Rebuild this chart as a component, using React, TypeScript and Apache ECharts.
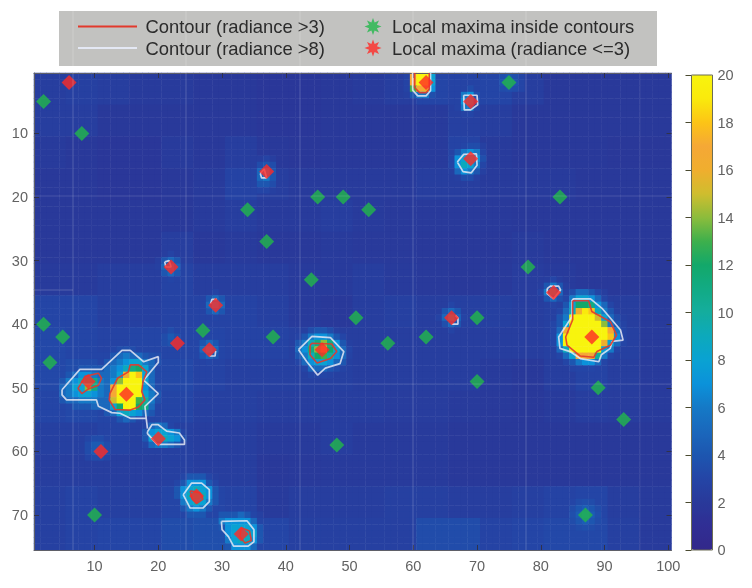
import React, { useEffect, useRef } from "react";
import * as echarts from "echarts";

const xTicks = [10, 20, 30, 40, 50, 60, 70, 80, 90, 100];
const yTicks = [10, 20, 30, 40, 50, 60, 70];
const colormap = ["#33288a", "#302e94", "#29399a", "#2445a6", "#1d56b0", "#1a68bc", "#1579c6", "#0b92da", "#0aa2d2", "#0ca9bc", "#14ad9e", "#12ab84", "#13a86a", "#3eb04c", "#8cbc3c", "#cfbd2e", "#f0ae2e", "#f5a836", "#fcc416", "#faea0c", "#f8f40e"];

// Background radiance, one value for each 5x5 block of cells
const backgroundBlocks = [
  [2.4, 2.6, 2.4, 2.2, 2.2, 2, 2, 1.8, 1.8, 2, 2.2, 2.4, 3, 2.8, 3, 2.4, 2, 2, 2, 2],
  [2.4, 2.4, 2, 2, 2, 2, 2, 1.8, 1.8, 2, 2, 2, 2.2, 2.6, 2.4, 2, 2, 2, 2, 2],
  [2.2, 2, 1.8, 1.8, 2.2, 2, 2.4, 2, 1.9, 2, 2, 2, 2.2, 2.8, 2.2, 2, 2, 2, 1.9, 1.9],
  [2, 2, 1.8, 1.8, 2, 2.2, 2.8, 2.4, 2.2, 2.2, 2.2, 2.2, 2.4, 2.4, 2.2, 2.2, 2.2, 2, 2, 2],
  [2, 2, 2, 2, 2, 2.2, 2.4, 2.2, 2.2, 2.4, 2.2, 2.1, 2.1, 2.1, 2.1, 2, 2, 2, 2, 2],
  [2, 2, 2, 2, 2.4, 2, 2.2, 2, 2, 2.2, 2.1, 2.1, 2, 2, 2, 2.2, 2, 2, 2, 2],
  [2.2, 2.2, 2.4, 2.4, 2.8, 2.4, 2.4, 2.4, 2.2, 2.2, 2.4, 2.2, 2.1, 2, 2.1, 2.3, 2.2, 2, 2, 2],
  [3, 3, 2.6, 2.6, 2.8, 2.8, 2.8, 2.6, 2.2, 2, 2.4, 2.6, 2.4, 2.6, 2.6, 2.4, 2.6, 2.8, 2.4, 2.2],
  [3.2, 3, 2.8, 3, 3, 3, 2.8, 2.8, 2.6, 2.4, 2.4, 2.4, 2.4, 2.4, 2.4, 2.4, 2.6, 3, 2.6, 2.2],
  [3.2, 3.4, 3, 3.2, 3.2, 2.8, 2.6, 2.6, 2.6, 2.6, 2.4, 2.4, 2.4, 2.4, 2.2, 2, 2.4, 2.8, 2.4, 2.2],
  [3, 3.2, 3, 3, 3, 2.6, 2.6, 2.4, 2.4, 2.4, 2.4, 2.3, 2.3, 2.2, 2.1, 2, 2.2, 2.4, 2.3, 2.2],
  [2.6, 2.6, 2.8, 2.6, 2.6, 2.4, 2.4, 2.2, 2.2, 2.4, 2.2, 2.2, 2.2, 2, 2, 2, 2, 2, 2, 2],
  [2.4, 2.4, 2.4, 2.4, 2.6, 2.4, 2.4, 2, 2.1, 2.2, 2.2, 2.2, 2.2, 2, 2, 2, 2, 2, 2, 2],
  [2.6, 2.8, 2.6, 2.6, 3, 3, 2.8, 2.2, 2.4, 2.4, 2.4, 2.6, 2.6, 2.4, 2.4, 2.6, 2.8, 3, 2.4, 2.2],
  [2.6, 2.8, 3, 3, 3.4, 3.6, 3.6, 3, 2.6, 2.6, 2.6, 2.6, 3.4, 3.4, 2.8, 3, 3.2, 3.2, 2.6, 2.2],
];

// Single-cell readings round the hot spots: first column, first row, then rows of values
const spotWest = { col: 5, row: 44, cells: [
  [2, 2, 2, 2, 2, 2, 2, 2.6, 3, 3.4, 3.6, 3.4, 3, 2.8, 2.6, 2.4, 2, 2, 2, 2],
  [2, 2, 2, 2, 2, 2.6, 3, 3, 4, 5, 6, 5, 5, 4, 3.6, 3.4, 2.4, 2, 2, 2],
  [2, 2, 2, 2.6, 3, 3, 3, 4, 5, 6, 7, 8, 8, 6, 5, 3.6, 2.4, 2, 2, 2],
  [2, 2.6, 3, 4, 4, 4, 4, 5, 6, 7, 9, 11, 12, 8, 5, 3, 2.4, 2, 2, 2],
  [3, 4, 5, 7, 7, 6, 5, 5, 6, 8, 16, 20, 18, 8, 5, 3, 2.4, 2, 2, 2],
  [4, 6, 7, 9, 11, 11, 6, 5, 7, 14, 20, 20, 20, 8, 5, 3, 2.4, 2, 2, 2],
  [5, 6, 8, 8, 14, 11, 6, 5, 17, 20, 20, 20, 20, 7, 5, 3.4, 2.6, 2, 2, 2],
  [5, 6, 7, 8, 8, 7, 6, 5, 17, 20, 20, 20, 20, 8, 6, 4, 2.6, 2, 2, 2],
  [4, 5, 5, 6, 6, 6, 5, 5, 15, 20, 20, 20, 13, 10, 6, 3.6, 2.4, 2, 2, 2],
  [3, 3, 4, 4, 4, 5, 5, 5, 8, 12, 20, 20, 12, 11, 5, 3, 2.4, 2, 2, 2],
  [2, 2, 3, 3, 3, 3, 3, 4, 5, 8, 9, 8, 7, 5, 4, 3, 2.4, 2, 2, 2],
  [2, 2, 2, 2, 2, 2, 2.6, 3, 3, 4, 5, 4, 3, 3, 3, 3, 3, 2.6, 2, 2],
] };
const spotSouthWest = { col: 18, row: 56, cells: [
  [3, 5, 6, 5, 3, 2.6, 2.2],
  [4, 7, 8, 8, 7, 6, 3],
  [4, 8, 10, 9, 8, 7, 3.6],
  [3, 5, 6, 6, 5, 4, 2.8],
] };
const spotEast = { col: 82, row: 35, cells: [
  [2, 2, 2.6, 3.4, 5, 5, 4, 3, 2.4, 2, 2, 2, 2],
  [2, 2.6, 3, 6, 8, 8, 7, 5, 3, 2.4, 2, 2, 2],
  [2, 2.6, 4, 8, 12, 12, 11, 7, 5, 3, 2.4, 2, 2],
  [2, 3, 5, 9, 16, 19, 18, 9, 6, 4, 2.6, 2.2, 2],
  [2.6, 4, 6, 20, 20, 20, 20, 15, 8, 5, 3.4, 2.6, 2],
  [3, 4, 8, 20, 20, 20, 20, 20, 14, 6, 4, 2.8, 2],
  [3, 5, 16, 20, 20, 20, 20, 20, 20, 17, 6, 3, 2.2],
  [3, 7, 20, 20, 20, 20, 20, 20, 20, 18, 7, 3, 2.2],
  [3, 7, 20, 20, 20, 20, 20, 20, 16, 8, 5, 3, 2.2],
  [2.4, 5, 9, 20, 20, 20, 20, 20, 8, 6, 3, 2.4, 2],
  [2.2, 3, 5, 8, 17, 17, 17, 10, 6, 3, 2.4, 2, 2],
  [2, 2.4, 3, 4, 6, 7, 7, 5, 3, 2.4, 2, 2, 2],
  [2, 2, 2.4, 2.8, 3, 3, 3, 2.8, 2.4, 2, 2, 2, 2],
] };
const spotCentre = { col: 42, row: 41, cells: [
  [2, 2.6, 3.4, 4, 4, 3.4, 2.6, 2, 2],
  [2.8, 4, 6, 7, 7, 6, 4, 3, 2],
  [4, 6, 9, 11, 14, 11, 7, 4, 2.6],
  [5, 7, 11, 14, 17, 12, 8, 5, 3],
  [4, 6, 9, 12, 13, 10, 7, 5, 2.8],
  [3, 5, 7, 8, 8, 7, 5, 4, 2.6],
  [2.6, 3, 5, 5, 5, 4, 3.4, 2.8, 2],
  [2, 2.6, 3, 3, 3, 2.8, 2.6, 2, 2],
] };
const spotTop = { col: 59, row: 1, cells: [
  [2.8, 17, 20, 20, 8, 3],
  [2.8, 17, 20, 20, 8, 3],
  [2.8, 13, 17, 16, 7, 3],
  [2.6, 4, 6, 6, 3.6, 2.6],
] };
const spotA = { col: 67, row: 3, cells: [[2.4, 2.8, 3.4, 2.8], [2.8, 6, 7, 3.6], [2.8, 7, 8, 3.6], [2.8, 6, 6, 3], [2.4, 2.8, 3, 2.6]] };
const spotB = { col: 66, row: 12, cells: [
  [2, 2.4, 3, 3.4, 3.4, 2.6],
  [2.6, 4, 6, 7, 6, 3],
  [3, 7, 8, 9, 7, 3.6],
  [3, 7, 9, 8, 6, 3],
  [2.6, 5, 7, 6, 4, 2.6],
  [2, 2.6, 3.4, 3.4, 2.6, 2],
] };
const spotC = { col: 80, row: 33, cells: [[2, 2.4, 3, 2.4, 2], [2.4, 4, 6, 4, 2.4], [2.8, 6, 9, 5, 2.6], [2.4, 4, 5, 3.6, 2.2], [2, 2.4, 2.8, 2.4, 2]] };
const spotD = { col: 64, row: 37, cells: [[2, 2.4, 3, 2.6, 2.2], [2.4, 4, 5, 4, 2.6], [2.8, 5, 9, 5, 2.8], [2.4, 3.6, 5, 4, 2.6], [2, 2.4, 2.8, 2.4, 2]] };
const spotE = { col: 35, row: 14, cells: [[2.2, 2.4, 2.8, 2.4], [2.4, 3.4, 4, 3.4], [2.6, 5, 7, 4], [2.6, 5, 6, 4], [2.4, 4, 4, 3.4], [2.2, 3, 3, 2.6]] };
const spotF = { col: 20, row: 29, cells: [[2, 2.4, 2.8, 2.4, 2], [2.4, 4, 5, 4, 2.4], [2.6, 5, 7, 5, 2.6], [2.4, 4, 5, 4, 2.4], [2, 2.4, 3, 2.4, 2]] };
const spotG = { col: 27, row: 35, cells: [[2, 2.4, 2.8, 2.4, 2], [2.4, 4, 5, 4, 2.4], [2.6, 5, 7, 5, 2.6], [2.4, 4, 5, 4, 2.4], [2, 2.4, 3, 2.4, 2]] };
const spotH = { col: 26, row: 42, cells: [[2, 2.4, 2.8, 2.4, 2], [2.4, 4, 5, 4, 2.4], [2.6, 5, 7, 5, 2.6], [2.4, 4, 5, 4, 2.4], [2, 2.4, 3, 2.4, 2]] };
const spotI = { col: 23, row: 64, cells: [
  [2.6, 3, 4, 4, 4, 3, 2.6],
  [3, 4, 7, 7, 7, 4, 3],
  [4, 7, 8, 9, 8, 7, 4],
  [4, 7, 9, 10, 9, 7, 4],
  [3, 6, 8, 9, 8, 6, 4],
  [3, 4, 6, 7, 6, 4, 3],
  [2.6, 3, 4, 4, 4, 3, 2.6],
] };
const spotJ = { col: 29, row: 70, cells: [
  [2.8, 4, 4, 4, 5, 4, 3, 2.6],
  [3, 6, 7, 7, 7, 7, 5, 3],
  [3, 4, 7, 8, 8, 8, 7, 4],
  [3, 3, 7, 8, 9, 9, 8, 4],
  [3, 3, 6, 8, 9, 9, 7, 4],
  [3, 3, 4, 7, 7, 7, 5, 3],
] };
const glowK = { col: 85, row: 68, cells: [[3, 3.4, 3.6, 3.4, 3], [3.4, 4, 4.4, 4, 3.4], [3.6, 4.4, 5, 4.4, 3.6], [3.4, 4, 4.4, 4, 3.4], [3, 3.4, 3.6, 3.4, 3]] };
const glowL = { col: 73, row: 1, cells: [[3, 3.6, 4, 3.6, 3], [3, 3.8, 4.4, 3.8, 3], [3, 3.4, 3.6, 3.4, 3]] };
const glowM = { col: 21, row: 41, cells: [[3, 3.4, 3, 3], [3.4, 4.2, 3.6, 3], [3.4, 3.8, 3.4, 3]] };
const glowN = { col: 9, row: 58, cells: [[3, 3.4, 3.4, 3], [3.4, 4.2, 4.2, 3.4], [3.4, 4.2, 4, 3.4], [3, 3.4, 3.4, 3]] };
const spots = [spotWest, spotSouthWest, spotEast, spotCentre, spotTop, spotA, spotB, spotC, spotD, spotE, spotF, spotG, spotH, spotI, spotJ, glowK, glowL, glowM, glowN];

const redMaxima = [[6, 2], [69, 5], [62, 2], [69, 14], [37, 16], [22, 31], [82, 35], [29, 37], [66, 39], [88, 42], [23, 43], [28, 44], [45.7, 44], [9, 49], [15, 51], [20, 58], [11, 60], [26, 67], [33, 73]];
const greenMaxima = [[2, 5], [8, 10], [75, 2], [34, 22], [45, 20], [49, 20], [53, 22], [83, 20], [37, 27], [78, 31], [44, 33], [51, 39], [70, 39], [2, 40], [5, 42], [3, 46], [27, 41], [38, 42], [56, 43], [62, 42], [70, 49], [89, 50], [93, 55], [48, 59], [10, 70], [87, 70]];

const whiteContours = [
  [[4.9, 50.3], [7.7, 47.1], [11.1, 47.1], [14.3, 44.1], [15.6, 44.1], [17.7, 45.9], [20, 45.1], [20, 46], [17.7, 48.8], [20, 50.9], [17.9, 52.9], [18.1, 54.8], [15.6, 54.8], [14, 54], [12.7, 53.9], [10.6, 52.9], [10.3, 51.9], [5.6, 51.9], [4.9, 51.1], [4.9, 50.3]],
  [[18.1, 54.8], [18.3, 56.4]],
  [[18.3, 56.9], [19, 55.8], [20, 55.8], [21.3, 56.8], [23.3, 57.1], [24.1, 58.2], [24.1, 58.9], [19.8, 58.9], [18.3, 57.2], [18.3, 56.9]],
  [[84.9, 36.2], [85.2, 36], [87.8, 36], [89.6, 37.5], [92.5, 40.9], [92.9, 42.5], [91.2, 42.7], [90.9, 43.8], [89.5, 44.8], [89.1, 45.9], [86.2, 45.4], [84.6, 44.3], [83, 43.8], [82.8, 42], [84.9, 38.8], [84.9, 36.2]],
  [[42, 44], [44.1, 41.9], [47, 42.1], [49.1, 44.3], [48.5, 46.2], [46.2, 46.9], [45, 48], [43.3, 45.9], [42, 44]],
  [[59.9, 0.5], [59.9, 3.2], [60.7, 4.1], [62, 4.1], [62.7, 3.3], [62.7, 0.5]],
  [[67.9, 4], [70, 4], [70.1, 5.5], [69, 6.3], [68, 6.3], [67.9, 4]],
  [[66.9, 14.5], [67.9, 13.3], [69.9, 13.2], [70, 15], [69.1, 16.2], [67.8, 16], [66.9, 14.5]],
  [[81, 34.4], [81.5, 34], [82.8, 34], [83.1, 34.6], [82, 36], [81, 35.2], [81, 34.4]],
  [[66.6, 38.6], [67, 39], [67, 40], [66, 40]],
  [[36, 16.3], [36.6, 15.6], [37, 17], [36.2, 17], [36, 16.3]],
  [[21, 30.2], [21.7, 30], [22, 31], [21.2, 31], [21, 30.2]],
  [[28.2, 36.8], [28.4, 36.1], [29.2, 36.1]],
  [[28, 45], [28.9, 45], [29, 44.2]],
  [[23.9, 66.8], [25.2, 65], [26.8, 65], [28, 66], [28, 67.9], [27, 68.9], [25, 68.9], [23.9, 66.8]],
  [[29.9, 71], [33.9, 70.9], [35, 72.3], [35, 74.2], [34.1, 74.9], [31.8, 74.9], [31, 73.4], [30, 72.3], [29.9, 71]],
];
const redContours = [
  [[7.7, 49.6], [8.5, 48.2], [10.6, 47.7], [11.1, 48.5], [10.6, 49.6], [9, 50.2], [8, 50.9], [7.4, 50.1], [7.7, 49.6]],
  [[12.4, 50.9], [13.6, 48.5], [15.3, 47.5], [15.6, 46.4], [16.9, 46.4], [18.2, 47.5], [17.6, 49], [17.4, 50.6], [17.9, 51.9], [16.9, 53], [15.6, 53.5], [13.2, 53.4], [12.3, 51.9], [12.4, 50.9]],
  [[85, 36.3], [87.5, 36.3], [88, 38], [90.9, 39.6], [91.9, 41.7], [90.9, 43.3], [88.8, 44.3], [88.3, 45.2], [86.2, 45], [84.1, 43.3], [83.9, 42], [85, 39.3], [85, 36.3]],
  [[43.8, 43.3], [44.1, 43], [47.2, 43.1], [48, 44.3], [47, 45.4], [44.9, 46.1], [43.8, 44.8], [43.8, 43.3]],
  [[60.2, 0.5], [60.2, 2.8], [61, 3.6], [62, 3.6], [62.5, 3], [62.5, 0.5]],
  [[25, 66.2], [26.5, 66.5], [27, 67.5], [26, 68.2], [25.3, 67.5], [25, 66.2]],
  [[33, 72], [34.3, 72.5], [34.6, 74], [33.6, 74.4], [32.8, 73.4], [33, 72]],
];

const CONTOUR_RED = "Contour (radiance >3)";
const CONTOUR_WHITE = "Contour (radiance >8)";
const MAX_GREEN = "Local maxima inside contours";
const MAX_RED = "Local maxima (radiance <=3)";
const asterisk = "path://M8 0L3.7 1.53L5.66 5.66L1.53 3.7L0 8L-1.53 3.7L-5.66 5.66L-3.7 1.53L-8 0L-3.7 -1.53L-5.66 -5.66L-1.53 -3.7L0 -8L1.53 -3.7L5.66 -5.66L3.7 -1.53Z";
const FONT = "'Liberation Sans', Arial, sans-serif";

const withBreaks = (parts: number[][][]) => {
  const out: (number | null)[][] = [];
  parts.forEach((p) => { out.push(...p); out.push([null, null]); });
  return out;
};

const buildCells = () => {
  const cols = backgroundBlocks[0].length * 5;
  const rows = backgroundBlocks.length * 5;
  const field: number[][] = [];
  for (let r = 0; r < rows; r++) {
    const line: number[] = [];
    for (let c = 0; c < cols; c++) line.push(backgroundBlocks[Math.floor(r / 5)][Math.floor(c / 5)]);
    field.push(line);
  }
  spots.forEach((s) => s.cells.forEach((vals, dr) => vals.forEach((v, dc) => {
    const r = s.row - 1 + dr, c = s.col - 1 + dc;
    if (r < rows && c < cols) field[r][c] = Math.max(field[r][c], v);
  })));
  const data: number[][] = [];
  field.forEach((line, r) => line.forEach((v, c) => data.push([c, r, v])));
  return { data, cols, rows };
};

export default function App() {
  const ref = useRef<HTMLDivElement>(null);
  useEffect(() => {
    const chart = echarts.init(ref.current!, undefined, { renderer: "svg" });
    const { data, cols, rows } = buildCells();
    const axisLabel = { color: "#626262", fontSize: 14.5, fontFamily: FONT };
    const tick = { show: true, inside: true, length: 5, lineStyle: { color: "#30324a", width: 1 } };
    const line = { show: true, lineStyle: { color: "#5f6068", width: 1 } };
    const plot = { left: 34, top: 73, width: 637.5, height: 477 };
    const faint = (x1: number, y1: number, x2: number, y2: number, o = 0.2) => ({
      type: "line", z: 20, silent: true, shape: { x1, y1, x2, y2 },
      style: { stroke: "#ffffff", lineWidth: 1, opacity: o },
    });
    chart.setOption({
      animation: false,
      backgroundColor: "#ffffff",
      grid: [
        { ...plot, containLabel: false },
        { ...plot, containLabel: false },
        { left: 691.5, top: 75, width: 21, height: 475, containLabel: false },
      ],
      xAxis: [
        { type: "category", gridIndex: 0, show: false, data: Array.from({ length: cols }, (_, i) => i + 1) },
        { type: "value", gridIndex: 1, position: "bottom", min: 0.5, max: 100.5, z: 3, splitLine: { show: false }, axisLine: line, axisTick: { ...tick, customValues: xTicks }, axisLabel: { ...axisLabel, margin: 8, customValues: xTicks } },
        { type: "value", gridIndex: 1, position: "top", min: 0.5, max: 100.5, z: 3, splitLine: { show: false }, axisLine: line, axisTick: { ...tick, customValues: xTicks }, axisLabel: { show: false } },
        { type: "value", gridIndex: 2, show: false, min: 0, max: 1 },
      ],
      yAxis: [
        { type: "category", gridIndex: 0, show: false, inverse: true, data: Array.from({ length: rows }, (_, i) => i + 1) },
        { type: "value", gridIndex: 1, position: "left", inverse: true, min: 0.5, max: 75.5, z: 3, splitLine: { show: false }, axisLine: line, axisTick: { ...tick, customValues: yTicks }, axisLabel: { ...axisLabel, margin: 6, customValues: yTicks } },
        { type: "value", gridIndex: 1, position: "right", inverse: true, min: 0.5, max: 75.5, z: 3, splitLine: { show: false }, axisLine: { show: false }, axisTick: { ...tick, customValues: yTicks }, axisLabel: { show: false } },
        { type: "value", gridIndex: 2, position: "right", min: 0, max: 20, interval: 2, z: 6, splitLine: { show: false }, axisLine: { show: false }, axisTick: { show: true, inside: true, length: 6, lineStyle: { color: "#4a4a30", width: 1 } }, axisLabel: { ...axisLabel, fontSize: 14.5, margin: 5 } },
      ],
      visualMap: {
        type: "continuous", min: 0, max: 20, seriesIndex: [0], calculable: false,
        left: 691.5, top: 75, itemWidth: 21, itemHeight: 475, padding: 0, borderWidth: 0,
        inRange: { color: colormap },
      },
      legend: [
        {
          left: 77, top: 15.75, orient: "vertical", itemGap: 0, itemWidth: 59, itemHeight: 16, padding: 0,
          data: [CONTOUR_RED, CONTOUR_WHITE],
          itemStyle: { color: "transparent", borderWidth: 0, opacity: 0 },
          lineStyle: { width: 2, opacity: 1 },
          textStyle: { color: "#2b2b2b", fontSize: 18.4, lineHeight: 21.5, fontFamily: FONT, padding: [0, 0, 0, 3.5] },
        },
        {
          left: 364.5, top: 15.75, orient: "vertical", itemGap: 0, itemWidth: 17, itemHeight: 17, padding: 0,
          data: [{ name: MAX_GREEN, icon: asterisk }, { name: MAX_RED, icon: asterisk }],
          textStyle: { color: "#2b2b2b", fontSize: 18.4, lineHeight: 21.5, fontFamily: FONT, padding: [0, 0, 0, 5.5] },
        },
      ],
      graphic: {
        elements: [
          { type: "rect", z: 1, silent: true, shape: { x: 59, y: 11, width: 598, height: 55 }, style: { fill: "#c2c2c0" } },
          { type: "rect", z: 10, silent: true, shape: { x: 691.5, y: 75, width: 21, height: 475 }, style: { fill: "none", stroke: "#6d6d55", lineWidth: 1 } },
          faint(73, 11, 73, 550), faint(186, 11, 186, 550), faint(300, 11, 300, 550),
          faint(413, 11, 413, 550), faint(526, 11, 526, 550), faint(640, 73, 640, 550, 0.08),
          faint(34, 196, 671, 196, 0.14), faint(34, 384, 671, 384, 0.14), faint(34, 290, 73, 290),
        ],
      },
      series: [
        { type: "heatmap", xAxisIndex: 0, yAxisIndex: 0, data, silent: true, itemStyle: { borderWidth: 0 }, progressive: 0 },
        { type: "line", name: CONTOUR_WHITE, xAxisIndex: 1, yAxisIndex: 1, z: 4, data: withBreaks(whiteContours), symbol: "none", connectNulls: false, silent: true, itemStyle: { color: "#f4f5f8" }, lineStyle: { color: "#e4e8f4", width: 1.7, opacity: 0.85 } },
        { type: "line", name: CONTOUR_RED, xAxisIndex: 1, yAxisIndex: 1, z: 4, data: withBreaks(redContours), symbol: "none", connectNulls: false, silent: true, itemStyle: { color: "#e8432f" }, lineStyle: { color: "#e2392c", width: 1.6, opacity: 0.9 } },
        { type: "scatter", name: MAX_GREEN, xAxisIndex: 1, yAxisIndex: 1, z: 5, data: greenMaxima, symbol: "diamond", symbolSize: 15, silent: true, itemStyle: { color: "#22b84a" } },
        { type: "scatter", name: MAX_RED, xAxisIndex: 1, yAxisIndex: 1, z: 6, data: redMaxima, symbol: "diamond", symbolSize: 15, silent: true, itemStyle: { color: "#ff2a26" } },
      ],
    });
    return () => chart.dispose();
  }, []);
  return (
    <div
      ref={ref}
      style={{ position: "fixed", left: 0, top: 0, width: 752, height: 588, filter: "blur(0.5px)" }}
    />
  );
}
